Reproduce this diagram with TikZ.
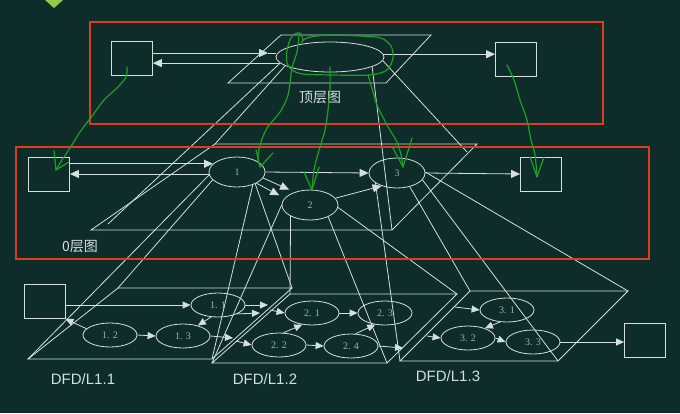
\documentclass[tikz,border=0pt]{standalone}
\usepackage{fontspec}
\setmainfont{Liberation Sans}
\newfontfamily\cjk{Noto Sans CJK SC}
\newfontfamily\numfont{Liberation Serif}
\usetikzlibrary{shapes.geometric,arrows.meta}
\definecolor{board}{RGB}{14,44,41}
\definecolor{chalk}{RGB}{212,224,220}
\definecolor{redline}{RGB}{220,62,26}
\definecolor{inkgreen}{RGB}{30,160,35}
\definecolor{badge}{RGB}{150,200,70}

\begin{document}
\begin{tikzpicture}[x=1pt,y=-1pt,line width=0.8pt,color=chalk,
  >={Triangle[length=9pt,width=8pt]},
  ext/.style={draw,minimum width=41pt,minimum height=34pt,inner sep=0pt},
  bubble/.style={draw,ellipse,minimum width=56pt,minimum height=30pt,inner sep=0pt,
    text=chalk!75!board,font=\numfont\fontsize{10}{10}\selectfont},
  subbubble/.style={bubble,minimum width=54pt,minimum height=24pt},
  flow/.style={-{Triangle[length=8pt,width=7pt]}},
  redbox/.style={draw=redline,line width=2.2pt},
  scribble/.style={draw=inkgreen,line width=1.2pt,line cap=round,line join=round},
  cnlbl/.style={font=\cjk\fontsize{14}{14}\selectfont},
  dfdlbl/.style={font=\fontsize{15}{15}\selectfont}]
  \fill[board] (0,0) rectangle (680,413);
  \useasboundingbox (0,0) rectangle (680,413);
  \fill[badge] (45,0) -- (63,0) -- (54,8) -- cycle;

  % top level
  \node[ext] (ts1) at (132,58.5) {};
  \node[ext] (ts2) at (516,59) {};
  \node[bubble,minimum width=108pt] (tp) at (330,57) {};
  \node[cnlbl] (toplbl) at (320,98) {顶层图};
  \draw (281,35) -- (431,35) -- (386,83) -- (228,83) -- cycle;
  \coordinate (tin) at (268,53);
  \draw[->] (ts1.east |- tin) -- (tin);
  \draw (tin) -- (tp.west |- tin);
  \draw[->] (tp.187) -- (ts1.east |- tp.187);
  \draw[->] (tp.3) -- (ts2.west |- tp.3);

  % level 0
  \node[ext] (s1) at (49,174) {};
  \node[ext] (s2) at (541,174) {};
  \node[bubble] (p1) at (237,172) {1};
  \node[bubble] (p2) at (310,205) {2};
  \node[bubble] (p3) at (397,173) {3};
  \node[cnlbl] (zerolbl) at (80,247) {0层图};
  \coordinate (a1) at (215,144);
  \coordinate (a2) at (477,144);
  \coordinate (a3) at (392,230);
  \coordinate (a4) at (91,230);
  \coordinate (a5) at (108,224);
  \coordinate (a6) at (467,152);
  \draw (a1) -- (a2) -- (a3) -- (a4) -- cycle;
  \draw[->] (s1.east |- p1.161) -- (p1.161);
  \draw[->] (p1.184) -- (s1.east |- p1.184);
  \draw[->] (p1.east) -- (p3.west);
  \draw[->] (p3.east) -- (s2.west);
  \draw[->,shorten >=6pt] (p1.-13) -- (p2.140);
  \draw[->,shorten >=6pt] (p1.-30) -- (p2.165);
  \draw[->] (p2.15) -- (p3.220);
  \draw (tp.187) -- (a5);
  \draw (tp.191) -- (a1);
  \draw (tp.347) -- (a3);
  \draw (tp.356) -- (a6);

  % level 1
  \coordinate (b1) at (118,288);
  \coordinate (b2) at (292,288);
  \coordinate (b3) at (212,359);
  \coordinate (b4) at (28,359);
  \coordinate (c1) at (290,294);
  \coordinate (c2) at (457,294);
  \coordinate (c3) at (387,363);
  \coordinate (c4) at (212,363);
  \coordinate (d1) at (470,291);
  \coordinate (d2) at (628,291);
  \coordinate (d3) at (558,361);
  \coordinate (d4) at (400,361);
  \draw (b1) -- (b2) -- (b3) -- (b4) -- cycle;
  \draw (c1) -- (c2) -- (c3) -- (c4) -- cycle;
  \draw (d1) -- (d2) -- (d3) -- (d4) -- cycle;
  \draw (p1.186) -- (b4);
  \draw (p1.198) -- (b1);
  \draw (p1.321) -- (b3);
  \draw (p1.327) -- (b2);
  \draw (p2.180) -- (c4);
  \draw (p2.210) -- (c1);
  \draw (p2.327) -- (c3);
  \draw (p2.355) -- (c2);
  \draw (p3.2) -- (d2);
  \draw (p3.345) -- (d3);
  \draw (p3.313) -- (d1);
  \draw (p3.205) -- (d4);

  \node[ext] (q0) at (44.5,301.5) {};
  \node[ext] (q9) at (645,340) {};
  \node[subbubble] (e11) at (218,305) {1. 1};
  \node[subbubble] (e12) at (110,335) {1. 2};
  \node[subbubble] (e13) at (183,336) {1. 3};
  \node[subbubble] (e21) at (312,313) {2. 1};
  \node[subbubble] (e22) at (279,345) {2. 2};
  \node[subbubble] (e23) at (385,313) {2. 3};
  \node[subbubble] (e24) at (351,346) {2. 4};
  \node[subbubble] (e31) at (507,310) {3. 1};
  \node[subbubble] (e32) at (468,338) {3. 2};
  \node[subbubble] (e33) at (533,342) {3. 3};
  \node[dfdlbl] (l11) at (83,379) {DFD/L1.1};
  \node[dfdlbl] (l12) at (265,379) {DFD/L1.2};
  \node[dfdlbl] (l13) at (448,376) {DFD/L1.3};

  \coordinate (o1) at (268,305);
  \coordinate (o2) at (260,313);
  \coordinate (o3) at (233,338);
  \coordinate (i1) at (270,310);
  \coordinate (i2) at (236,341);
  \coordinate (o4) at (403,348);
  \coordinate (i3) at (455,307);
  \coordinate (i4) at (427,336);
  \draw[flow] (q0.east |- e11.west) -- (e11.west);
  \draw[flow] (e12.165) -- (q0.south east);
  \draw[flow] (e12.east) -- (e13.west);
  \draw[flow] (e11.240) -- (e13.35);
  \draw[flow] (e11.east) -- (o1);
  \draw[flow] (e11.-25) -- (o2);
  \draw[flow] (e13.east) -- (o3);
  \draw[flow] (i1) -- (e21.west);
  \draw[flow] (i2) -- (e22.west);
  \draw[flow] (e21.east) -- (e23.west);
  \draw[flow] (e22.east) -- (e24.west);
  \draw[flow] (e22.70) -- (e21.230);
  \draw[flow] (e24.70) -- (e23.230);
  \draw[flow] (e24.east) -- (o4);
  \draw[flow] (i3) -- (e31.west);
  \draw[flow] (i4) -- (e32.west);
  \draw[flow] (e31.240) -- (e32.30);
  \draw[flow] (e32.east) -- (e33.west);
  \draw[flow] (e33.east) -- (q9.west |- e33.east);

  % frames
  \draw[redbox] (90,22) rectangle (603,124);
  \draw[redbox] (16,147) rectangle (649,259);

  % hand marks
  \draw[scribble] plot[smooth] coordinates {(127,67) (126,77) (117,88) (104,100) (92,116) (80,132) (70,148) (62,160) (56,170)};
  \draw[scribble] (54,151) -- (56,170) -- (69,162);
  \draw[scribble] plot[smooth] coordinates {(303,40) (300,33) (292,36) (287,50) (287,63) (292,70) (303,74) (333,75) (370,75) (387,70) (393,58) (391,46) (381,38) (360,36) (327,35) (307,38) (301,43)};
  \draw[scribble] plot[smooth] coordinates {(299,36) (297,52) (292,68) (288,95) (280,112) (267,128) (260,145) (258,158) (260,167)};
  \draw[scribble] (273,153) -- (260,167) -- (256,150);
  \draw[scribble] plot[smooth] coordinates {(330,67) (330,87) (328,110) (325,130) (319,150) (314,170) (312,190)};
  \draw[scribble] (304,172) -- (312,190) -- (319,167);
  \draw[scribble] plot[smooth] coordinates {(368,75) (373,92) (377,105) (387,125) (397,142) (401,155) (403,167)};
  \draw[scribble] (393,148) -- (403,167) -- (412,138);
  \draw[scribble] plot[smooth] coordinates {(507,65) (514,80) (520,100) (527,120) (531,140) (535,155) (537,177)};
  \draw[scribble] (530,157) -- (537,177) -- (544,157);
\end{tikzpicture}
\end{document}
